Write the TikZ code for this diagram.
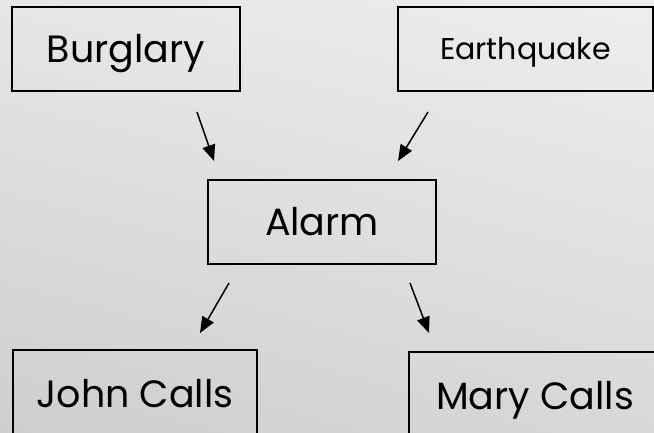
\documentclass[tikz,border=0pt]{standalone}
\usepackage{fontspec}
\setmainfont{Poppins}
\usetikzlibrary{arrows.meta,shadings}
\definecolor{bgul}{RGB}{230,230,230}
\definecolor{bgur}{RGB}{238,238,238}
\definecolor{bgll}{RGB}{206,206,206}
\definecolor{bglr}{RGB}{216,216,216}
\begin{document}
\begin{tikzpicture}[x=1pt,y=-1pt,>={Triangle[length=16pt,width=13pt]},
  var/.style={draw,line width=2pt,minimum width=228pt,minimum height=84pt,inner sep=0pt,
    text height=27pt,text depth=0pt,font=\fontsize{38}{46}\selectfont},
  edge/.style={->,line width=1.5pt}]
\shade[upper left=bgul,upper right=bgur,lower left=bgll,lower right=bglr] (0,0) rectangle (654,432);
\useasboundingbox (0,0) rectangle (654,432);
\node[var] (burglary) at (126,49) {Burglary};
\node[var,minimum width=255pt,text height=21pt,font=\fontsize{30}{36}\selectfont] (quake) at (525.5,49) {Earthquake};
\node[var] (alarm) at (322,221.5) {Alarm};
\node[var,minimum width=244pt,minimum height=87pt] (john) at (135,393.5) {John Calls};
\node[var,minimum width=252pt,minimum height=87pt] (mary) at (535,395.5) {Mary Calls};
\coordinate (b0) at (197,112); \coordinate (b1) at (214,161);
\coordinate (e0) at (428,112); \coordinate (e1) at (398,161);
\coordinate (j0) at (229,283); \coordinate (j1) at (200,333);
\coordinate (m0) at (410,283); \coordinate (m1) at (429,333);
\draw[edge] (b0)--(b1); \draw[edge] (e0)--(e1);
\draw[edge] (j0)--(j1); \draw[edge] (m0)--(m1);
\end{tikzpicture}
\end{document}
